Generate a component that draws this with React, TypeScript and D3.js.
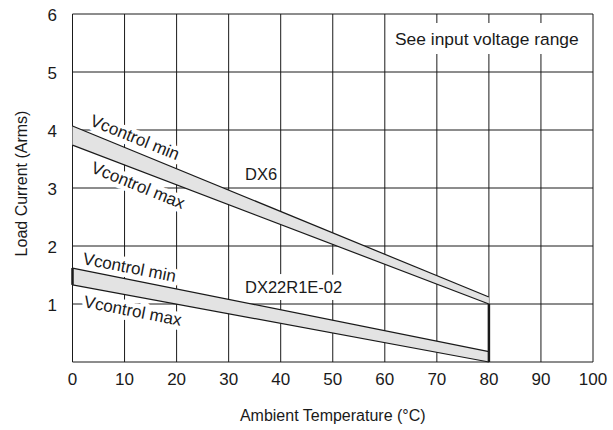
import * as d3 from "d3";

const temps = [0, 80];
const dx6Min = [4.07, 1.12];
const dx6Max = [3.74, 1.0];
const dx22Min = [1.62, 0.18];
const dx22Max = [1.33, 0.0];

const xTicks = [0, 10, 20, 30, 40, 50, 60, 70, 80, 90, 100];
const yTicks = [1, 2, 3, 4, 5, 6];

const W = 613;
const H = 430;
const font = "'Liberation Sans', Arial, sans-serif";
const ink = "#1a1a1a";

const x = d3.scaleLinear().domain([0, 100]).range([72.5, 593]);
const y = d3.scaleLinear().domain([0, 6]).range([362, 14]);

function band(hi: number[], lo: number[]) {
  const pts = temps.map((t, i) => ({ t, hi: hi[i], lo: lo[i] }));
  const area = d3
    .area<{ t: number; hi: number; lo: number }>()
    .x((d) => x(d.t))
    .y0((d) => y(d.lo))
    .y1((d) => y(d.hi));
  const line = d3.line<[number, number]>().x((d) => x(d[0])).y((d) => y(d[1]));
  return {
    area: area(pts) || "",
    top: line(temps.map((t, i) => [t, hi[i]] as [number, number])) || "",
    bottom: line(temps.map((t, i) => [t, lo[i]] as [number, number])) || "",
  };
}

// text with a white halo that knocks the grid out behind it
function Label(props: { px: number; py: number; angle?: number; text: string; size: number; halo?: number }) {
  const { px, py, angle = 0, text, size, halo = 9 } = props;
  return (
    <g transform={`translate(${px},${py}) rotate(${angle})`} fontFamily={font} fontSize={size}>
      <text stroke="white" strokeWidth={halo} strokeLinejoin="round" fill="white">
        {text}
      </text>
      <text fill={ink}>{text}</text>
    </g>
  );
}

export default function App() {
  const b6 = band(dx6Min, dx6Max);
  const b22 = band(dx22Min, dx22Max);
  const [x0, x1] = x.range();
  const [y0, y1] = y.range();
  const yGrid = d3.range(0, 7);

  return (
    <svg width={W} height={H} style={{ position: "absolute", left: 0, top: 0, background: "white" }}>
      {/* grid */}
      <g stroke={ink} strokeWidth={1}>
        {xTicks.map((t) => (
          <line key={`gx${t}`} x1={x(t)} x2={x(t)} y1={y1} y2={y0} />
        ))}
        {yGrid.map((t) => (
          <line key={`gy${t}`} x1={x0} x2={x1} y1={y(t)} y2={y(t)} />
        ))}
      </g>

      {/* note */}
      <rect x={388} y={23} width={198} height={31} fill="white" />
      <text x={395} y={45} fontFamily={font} fontSize={17.4} fill={ink}>
        See input voltage range
      </text>

      {/* band labels */}
      <Label px={89} py={125} angle={22} text="Vcontrol min" size={17} />
      <Label px={90} py={172} angle={22} text="Vcontrol max" size={17} />
      <Label px={82} py={264} angle={11} text="Vcontrol min" size={17} />
      <Label px={83} py={307} angle={11} text="Vcontrol max" size={17} />
      <Label px={245} py={180} text="DX6" size={16.5} halo={3} />
      <Label px={245} py={293} text="DX22R1E-02" size={16.5} halo={14} />

      {/* bands */}
      {[b6, b22].map((b, i) => (
        <g key={i}>
          <path d={b.area} fill="#e3e3e3" />
          <path d={b.top} fill="none" stroke={ink} strokeWidth={1.2} />
          <path d={b.bottom} fill="none" stroke={ink} strokeWidth={1.2} />
        </g>
      ))}
      <line x1={x(80)} x2={x(80)} y1={y(dx6Max[1])} y2={y(0)} stroke={ink} strokeWidth={2.5} />
      <line x1={x(0)} x2={x(0)} y1={y(dx22Min[0])} y2={y(dx22Max[0])} stroke={ink} strokeWidth={2.5} />

      {/* tick labels */}
      {xTicks.map((t) => (
        <text key={`tx${t}`} x={x(t)} y={385} textAnchor="middle" fontFamily={font} fontSize={17} fill={ink}>
          {t}
        </text>
      ))}
      {yTicks.map((t) => (
        <text key={`ty${t}`} x={57} y={y(t) + 7} textAnchor="end" fontFamily={font} fontSize={17} fill={ink}>
          {t}
        </text>
      ))}

      {/* axis titles */}
      <text x={(x0 + x1) / 2} y={421} textAnchor="middle" fontFamily={font} fontSize={16} fill={ink}>
        Ambient Temperature (°C)
      </text>
      <text transform={`translate(27,183.5) rotate(-90)`} textAnchor="middle" fontFamily={font} fontSize={16} fill={ink}>
        Load Current (Arms)
      </text>
    </svg>
  );
}
